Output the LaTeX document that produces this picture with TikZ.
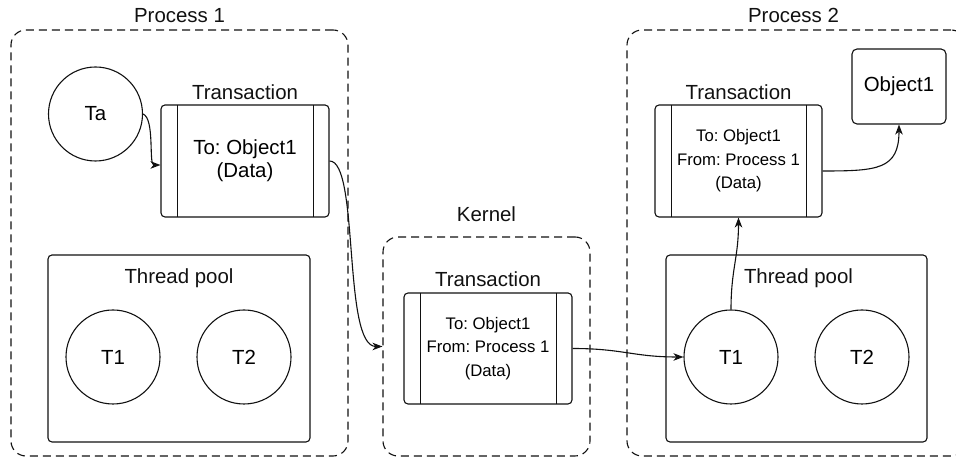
\documentclass[tikz,border=0pt]{standalone}
\usepackage{fontspec}
\setmainfont{Liberation Sans}
\usepackage{tikz}
\usetikzlibrary{arrows.meta,positioning}
\frenchspacing
\definecolor{ink}{HTML}{111111}
\tikzset{
  processbox/.style={
    draw=ink,
    line width=1.1bp,
    dash pattern=on 8bp off 5bp,
    rounded corners=15bp,
    inner sep=0pt
  },
  txnnode/.style={
    draw=ink,
    line width=1.1bp,
    rounded corners=4bp,
    minimum width=168bp,
    minimum height=112bp,
    align=center,
    inner sep=0pt,
    font=\fontsize{20.5}{23}\selectfont,
    path picture={
      \draw[ink,line width=0.9bp] ([xshift=16bp]path picture bounding box.north west) -- ([xshift=16bp]path picture bounding box.south west);
      \draw[ink,line width=0.9bp] ([xshift=-16bp]path picture bounding box.north east) -- ([xshift=-16bp]path picture bounding box.south east);
    }
  },
  smalltext/.style={font=\fontsize{16.8}{23.5}\selectfont},
  poolbox/.style={
    draw=ink,
    line width=1.1bp,
    rounded corners=4bp,
    minimum width=262bp,
    minimum height=187bp,
    inner sep=0pt
  },
  threadnode/.style={
    circle,
    draw=ink,
    line width=1.1bp,
    minimum size=94bp,
    inner sep=0pt,
    font=\fontsize{20.5}{23}\selectfont
  },
  objnode/.style={
    draw=ink,
    line width=1.1bp,
    rounded corners=5bp,
    minimum width=94bp,
    minimum height=75bp,
    inner sep=0pt,
    font=\fontsize{20.5}{23}\selectfont
  },
  boxlabel/.style={inner sep=0pt, text=ink, font=\fontsize{20.5}{23}\selectfont},
  flowarrow/.style={-{Stealth[length=10bp,width=7.5bp,inset=3bp]},line width=1.1bp,draw=ink}
}
\begin{document}
\begin{tikzpicture}[x=1bp,y=1bp,node distance=6bp]
  \useasboundingbox (0,0) rectangle (956,458);
  % process 1
  \node[processbox, minimum width=337bp, minimum height=426bp] (proc1) at (179.5,215) {};
  \node[boxlabel, above=7bp of proc1] (proc1lbl) {Process 1};
  \node[threadnode] (ta) at (95.5,344) {Ta};
  \node[txnnode] (txn1) at (245,297) {To: Object1\\(Data)};
  \node[boxlabel, above=5bp of txn1] (txn1lbl) {Transaction};
  \node[poolbox] (pool1) at (179,109.5) {};
  \node[boxlabel, below=14bp of pool1.north] (pool1lbl) {Thread pool};
  \node[threadnode] (t1a) at (113,101) {T1};
  \node[threadnode] (t2a) at (244,101) {T2};
  % kernel
  \node[processbox, minimum width=207bp, minimum height=219bp] (kernel) at (486.5,111.5) {};
  \node[boxlabel, above=15bp of kernel] (kernellbl) {Kernel};
  \node[txnnode, smalltext, minimum height=111bp] (txn2) at (488,109.5) {To: Object1\\From: Process 1\\(Data)};
  \node[boxlabel, above=6bp of txn2] (txn2lbl) {Transaction};
  % process 2
  \node[processbox, minimum width=339bp, minimum height=426bp] (proc2) at (796.5,215) {};
  \node[boxlabel, above=7bp of proc2.north, xshift=-3bp] (proc2lbl) {Process 2};
  \node[txnnode, smalltext, minimum width=167bp] (txn3) at (738.5,297) {To: Object1\\From: Process 1\\(Data)};
  \node[boxlabel, above=5bp of txn3] (txn3lbl) {Transaction};
  \node[objnode] (obj) at (899,371.5) {Object1};
  \node[poolbox, minimum width=261bp] (pool2) at (796.5,109.5) {};
  \node[boxlabel, below=14bp of pool2.north, xshift=2bp] (pool2lbl) {Thread pool};
  \node[threadnode] (t1b) at (731,101) {T1};
  \node[threadnode] (t2b) at (862,101) {T2};
  % connectors
  \draw[flowarrow] (ta.east) .. controls +(12,-5) and +(-12,0) .. ([yshift=-4bp]txn1.west);
  \draw[flowarrow] (txn1.east) .. controls +(30,0) and +(-40,0) .. (kernel.west);
  \draw[flowarrow] (txn2.east) .. controls +(50,0) and +(-50,0) .. (t1b.west);
  \draw[flowarrow] (t1b.north) .. controls +(0,40) and +(0,-40) .. (txn3.south);
  \draw[flowarrow] ([yshift=-10bp]txn3.east) .. controls +(55,0) and +(0,-45) .. (obj.south);
\end{tikzpicture}
\end{document}
